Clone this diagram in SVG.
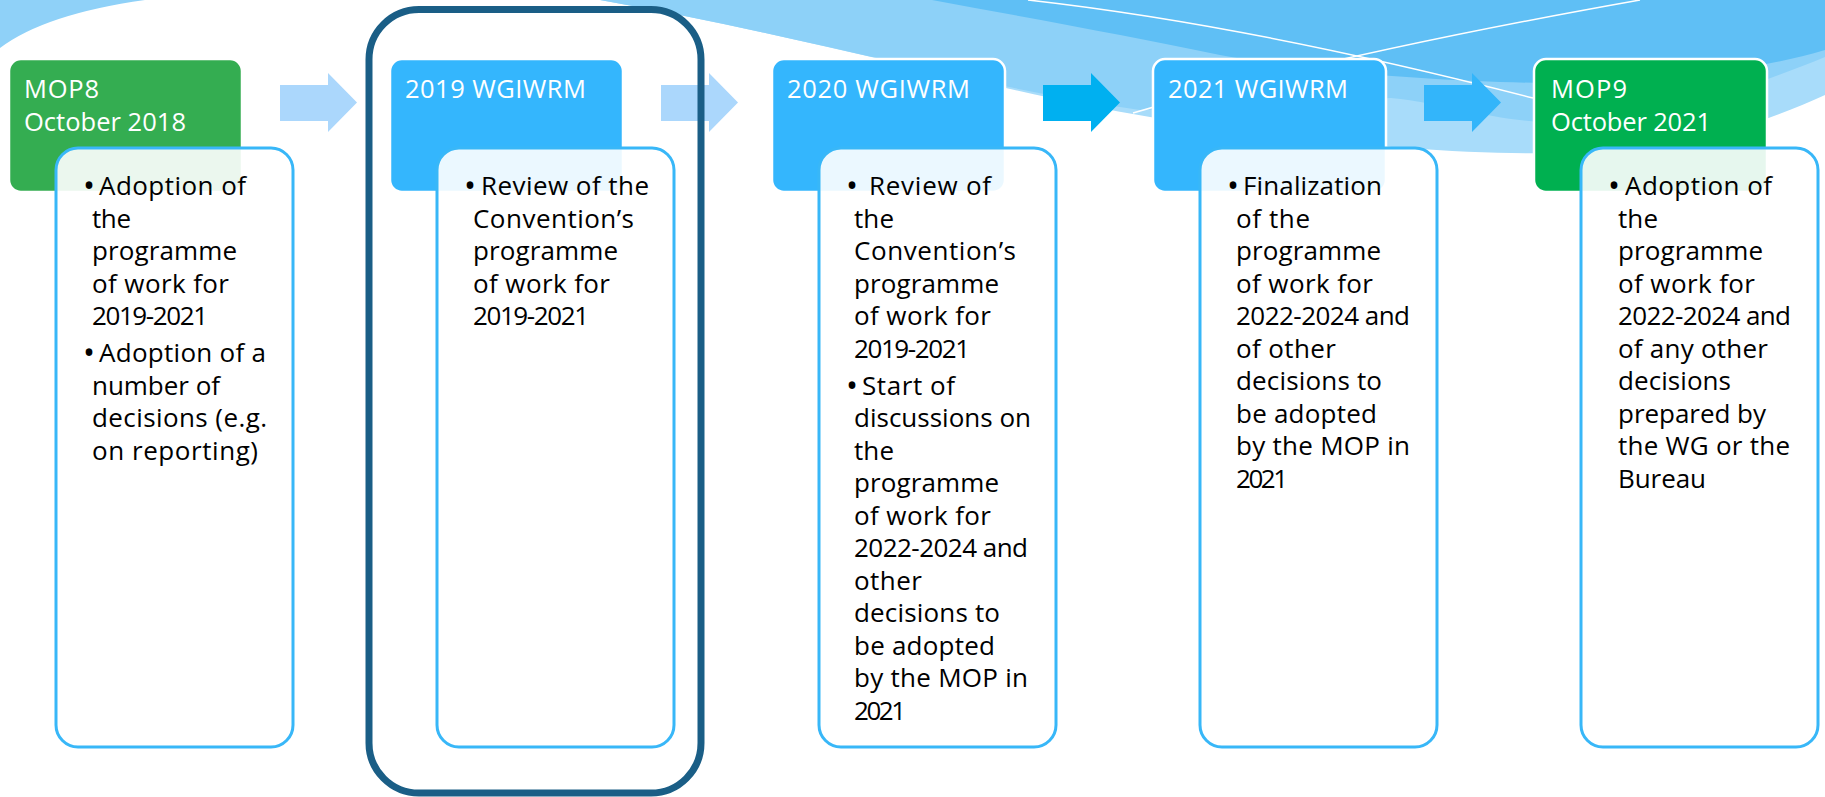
<svg xmlns="http://www.w3.org/2000/svg" width="1825" height="797" viewBox="0 0 1825 797">
<style>
.t{font-family:"Open Sans",Lato,sans-serif;font-size:26px;fill:#000}
.b{font-family:"Open Sans",Lato,sans-serif;font-size:32px;fill:#000}
.h{font-family:"Open Sans",Lato,sans-serif;font-size:25.5px;fill:#fff}
.top{stroke:#fff;stroke-width:2.5}
.inner{fill:#fff;fill-opacity:0.9;stroke:#38b7f8;stroke-width:3}
.wl{fill:none;stroke:#fff;stroke-width:1.5}
</style>
<rect width="1825" height="797" fill="#fff"/>
<g id="background">
<path d="M0,0 L0,48 Q45,14 145,0 Z" fill="#8fd1f8"/>
<path d="M600,0 C800,35 1000,92 1150,117 C1300,142 1450,155 1560,153 C1680,150 1760,125 1825,95 L1825,0 Z" fill="#a8dcfa"/>
<path d="M600,0 C800,35 980,88 1140,110 L1391,98 C1450,104 1490,120 1545,122 C1640,124 1740,92 1825,57 L1825,0 Z" fill="#8dd1f8"/>
<path d="M932,0 C1030,18 1130,36 1220,55 C1300,70 1400,78 1500,82 C1620,86 1740,75 1825,50 L1825,0 Z" fill="#5fbff5"/>
<path class="wl" d="M1028,0 Q1250,25 1533,98"/>
<path class="wl" d="M1133,113 Q1330,55 1640,0"/>
</g>
<g id="connectors">
<polygon points="280,85 328,85 328,73 357,102.5 328,132 328,121 280,121" fill="#abd7fc"/>
<polygon points="661,85 709,85 709,73 738,102.5 709,132 709,121 661,121" fill="#abd7fc"/>
<polygon points="1043,85 1091,85 1091,73 1120,102.5 1091,132 1091,121 1043,121" fill="#00b0f0"/>
<polygon points="1424,85 1472,85 1472,73 1501,102.5 1472,132 1472,121 1424,121" fill="#33b5fa"/>
</g>
<g id="node-mop8">
<rect class="top" x="9" y="59" width="233" height="133" rx="12" fill="#34ad51"/>
<text class="h"><tspan x="24" y="98" textLength="75">MOP8</tspan><tspan x="24" y="131" textLength="162">October 2018</tspan></text>
<rect class="inner" x="56" y="148" width="237" height="599" rx="22"/>
<text class="b" x="83" y="197">•</text>
<text class="b" x="83" y="364">•</text>
<text class="t"><tspan x="99" y="195" textLength="147">Adoption of</tspan><tspan x="92" y="227.5" textLength="39">the</tspan><tspan x="92" y="260" textLength="145">programme</tspan><tspan x="92" y="292.5" textLength="137">of work for</tspan><tspan x="92" y="325" textLength="116">2019-2021</tspan><tspan x="99" y="362" textLength="167">Adoption of a</tspan><tspan x="92" y="394.5" textLength="128">number of</tspan><tspan x="92" y="427" textLength="175">decisions (e.g.</tspan><tspan x="92" y="459.5" textLength="166">on reporting)</tspan></text>
</g>
<g id="node-2019">
<rect class="top" x="390" y="59" width="233" height="133" rx="12" fill="#34b6fd"/>
<text class="h"><tspan x="405" y="98" textLength="181">2019 WGIWRM</tspan></text>
<rect class="inner" x="437" y="148" width="237" height="599" rx="22"/>
<text class="b" x="464" y="197">•</text>
<text class="t"><tspan x="481" y="195" textLength="168">Review of the</tspan><tspan x="473" y="227.5" textLength="161">Convention’s</tspan><tspan x="473" y="260" textLength="145">programme</tspan><tspan x="473" y="292.5" textLength="137">of work for</tspan><tspan x="473" y="325" textLength="116">2019-2021</tspan></text>
</g>
<g id="node-2020">
<rect class="top" x="772" y="59" width="233" height="133" rx="12" fill="#34b6fd"/>
<text class="h"><tspan x="787" y="98" textLength="183">2020 WGIWRM</tspan></text>
<rect class="inner" x="819" y="148" width="237" height="599" rx="22"/>
<text class="b" x="846" y="197">•</text>
<text class="b" x="846" y="396.5">•</text>
<text class="t"><tspan x="869" y="195" textLength="122">Review of</tspan><tspan x="854" y="227.5" textLength="40">the</tspan><tspan x="854" y="260" textLength="162">Convention’s</tspan><tspan x="854" y="292.5" textLength="145">programme</tspan><tspan x="854" y="325" textLength="137">of work for</tspan><tspan x="854" y="357.5" textLength="116">2019-2021</tspan><tspan x="862" y="394.5" textLength="93">Start of</tspan><tspan x="854" y="427" textLength="177">discussions on</tspan><tspan x="854" y="459.5" textLength="40">the</tspan><tspan x="854" y="492" textLength="145">programme</tspan><tspan x="854" y="524.5" textLength="137">of work for</tspan><tspan x="854" y="557" textLength="174">2022-2024 and</tspan><tspan x="854" y="589.5" textLength="68">other</tspan><tspan x="854" y="622" textLength="146">decisions to</tspan><tspan x="854" y="654.5" textLength="141">be adopted</tspan><tspan x="854" y="687" textLength="174">by the MOP in</tspan><tspan x="854" y="719.5" textLength="52">2021</tspan></text>
</g>
<g id="node-2021">
<rect class="top" x="1153" y="59" width="233" height="133" rx="12" fill="#34b6fd"/>
<text class="h"><tspan x="1168" y="98" textLength="180">2021 WGIWRM</tspan></text>
<rect class="inner" x="1200" y="148" width="237" height="599" rx="22"/>
<text class="b" x="1227" y="197">•</text>
<text class="t"><tspan x="1243" y="195" textLength="139">Finalization</tspan><tspan x="1236" y="227.5" textLength="74">of the</tspan><tspan x="1236" y="260" textLength="145">programme</tspan><tspan x="1236" y="292.5" textLength="137">of work for</tspan><tspan x="1236" y="325" textLength="174">2022-2024 and</tspan><tspan x="1236" y="357.5" textLength="100">of other</tspan><tspan x="1236" y="390" textLength="146">decisions to</tspan><tspan x="1236" y="422.5" textLength="141">be adopted</tspan><tspan x="1236" y="455" textLength="174">by the MOP in</tspan><tspan x="1236" y="487.5" textLength="52">2021</tspan></text>
</g>
<g id="node-mop9">
<rect class="top" x="1534" y="59" width="233" height="133" rx="12" fill="#00b050"/>
<text class="h"><tspan x="1551" y="98" textLength="76">MOP9</tspan><tspan x="1551" y="131" textLength="160">October 2021</tspan></text>
<rect class="inner" x="1581" y="148" width="237" height="599" rx="22"/>
<text class="b" x="1608" y="197">•</text>
<text class="t"><tspan x="1625" y="195" textLength="147">Adoption of</tspan><tspan x="1618" y="227.5" textLength="40">the</tspan><tspan x="1618" y="260" textLength="145">programme</tspan><tspan x="1618" y="292.5" textLength="137">of work for</tspan><tspan x="1618" y="325" textLength="173">2022-2024 and</tspan><tspan x="1618" y="357.5" textLength="150">of any other</tspan><tspan x="1618" y="390" textLength="113">decisions</tspan><tspan x="1618" y="422.5" textLength="148">prepared by</tspan><tspan x="1618" y="455" textLength="172">the WG or the</tspan><tspan x="1618" y="487.5" textLength="88">Bureau</tspan></text>
</g>
<g id="highlight-frame">
<rect x="369" y="9.5" width="332" height="783.5" rx="50" fill="none" stroke="#1a5e86" stroke-width="7"/>
</g>
</svg>
